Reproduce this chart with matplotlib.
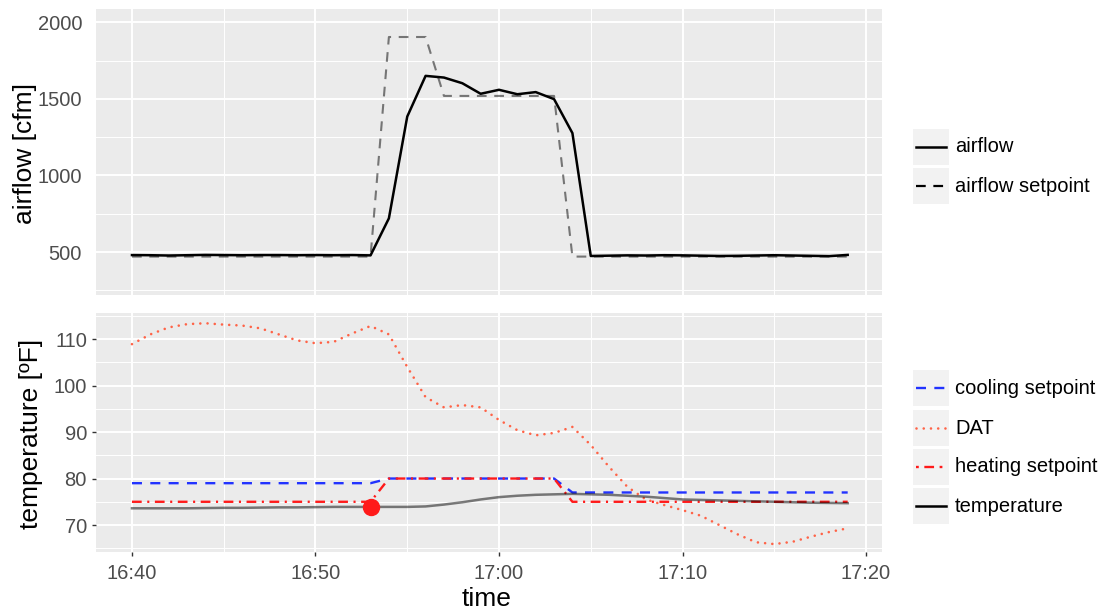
import matplotlib.pyplot as plt
import matplotlib.patches as patches
from matplotlib.lines import Line2D
from matplotlib.ticker import FixedLocator
import numpy as np

plt.rcParams['font.family'] = ['Liberation Sans', 'DejaVu Sans']
plt.rcParams['lines.scale_dashes'] = False

# --- data (one sample per minute, minute 0 = 16:40) ---
minutes = np.arange(40)
time_ticks = [0, 10, 20, 30, 40]
time_labels = ['16:40', '16:50', '17:00', '17:10', '17:20']

airflow = [480, 479, 477, 479, 481, 480, 479, 480, 480, 479, 480, 479, 480, 478,
           720, 1385, 1651, 1640, 1603, 1534, 1560, 1531, 1545, 1499, 1277,
           474, 476, 478, 477, 479, 478, 476, 474, 475, 477, 479, 477, 475, 473, 481]
airflow_setpoint = [470] * 14 + [1905, 1905, 1905] + [1520] * 7 + [470] * 16

cooling_setpoint = [79] * 14 + [80] * 10 + [77] * 16
heating_setpoint = [75] * 14 + [80] * 10 + [75] * 16
dat = [108.9, 111.0, 112.5, 113.2, 113.4, 113.1, 112.9, 112.3, 111.0, 109.7,
       109.1, 109.4, 111.2, 112.8, 111.0, 104.0, 97.5, 95.3, 95.8, 95.3,
       92.6, 90.4, 89.3, 89.8, 91.1, 87.2, 82.5, 78.2, 75.5, 74.3,
       73.2, 72.0, 70.0, 68.0, 66.3, 65.9, 66.4, 67.5, 68.5, 69.3]
temperature = [73.6, 73.6, 73.6, 73.6, 73.65, 73.7, 73.7, 73.75, 73.8, 73.8,
               73.85, 73.9, 73.9, 73.9, 73.9, 73.9, 74.0, 74.4, 74.9, 75.5,
               76.0, 76.3, 76.5, 76.6, 76.7, 76.6, 76.5, 76.3, 76.1, 75.8,
               75.5, 75.4, 75.3, 75.2, 75.1, 75.0, 74.9, 74.8, 74.75, 74.7]
alarm_minute = [13]
alarm_temp = [73.9]

W, H = 1102, 611
fig = plt.figure(figsize=(W / 100, H / 100), dpi=100)
fig.patch.set_facecolor('white')

tick_size = 14.5
title_size = 19
legend_size = 14.5


def px_axes(l, t, r, b):
    return fig.add_axes([l / W, 1 - b / H, (r - l) / W, (b - t) / H])


def gg_style(ax):
    ax.set_facecolor('#ebebeb')
    for s in ax.spines.values():
        s.set_visible(False)
    ax.grid(which='major', color='white', linewidth=1.4)
    ax.grid(which='minor', color='white', linewidth=0.7)
    ax.set_axisbelow(True)
    ax.tick_params(which='minor', length=0)
    ax.tick_params(which='major', colors='#333333', labelcolor='#4d4d4d',
                   labelsize=tick_size)
    ax.set_xlim(-1.96, 40.87)
    ax.xaxis.set_major_locator(FixedLocator(time_ticks))
    ax.xaxis.set_minor_locator(FixedLocator([5, 15, 25, 35]))


ax1 = px_axes(96, 9, 882, 295)
ax2 = px_axes(96, 313, 882, 552)
gg_style(ax1)
gg_style(ax2)

# === TOP PANEL: airflow ===
ax1.plot(minutes, airflow, color='black', linewidth=1.8, zorder=3)
ax1.plot(minutes, airflow_setpoint, color='black', alpha=0.5, linewidth=1.5,
         dashes=(7, 5.5), zorder=3)
ax1.set_ylim(219, 2088)
ax1.yaxis.set_major_locator(FixedLocator([500, 1000, 1500, 2000]))
ax1.yaxis.set_minor_locator(FixedLocator([250, 750, 1250, 1750]))
ax1.tick_params(axis='y', which='major', length=0, pad=10)
ax1.tick_params(axis='x', which='major', length=0, labelbottom=False)

# === BOTTOM PANEL: temperatures ===
ax2.plot(minutes, cooling_setpoint, color='#2233ff', linewidth=1.7, dashes=(7.2, 6), zorder=3)
ax2.plot(minutes, dat, color='tomato', linewidth=1.9, dashes=(0.01, 5.2),
         dash_capstyle='round', zorder=3)
ax2.plot(minutes, heating_setpoint, color='#ff1a1a', linewidth=1.7,
         dashes=(7, 4, 1.5, 4), zorder=4)
ax2.plot(minutes, temperature, color='black', alpha=0.5, linewidth=1.8, zorder=5)
ax2.plot(alarm_minute, alarm_temp, 'o', color='#ff1a1a', markersize=11.5, zorder=6)
ax2.set_ylim(64.2, 115.6)
ax2.yaxis.set_major_locator(FixedLocator([70, 80, 90, 100, 110]))
ax2.yaxis.set_minor_locator(FixedLocator([65, 75, 85, 95, 105, 115]))
ax2.tick_params(axis='y', which='major', length=3, width=1, pad=3.5)
ax2.tick_params(axis='x', which='major', length=3, width=1, pad=5.5)
ax2.set_xticklabels(time_labels)

# axis titles
fig.text(25 / W, 1 - 153 / H, 'airflow [cfm]', rotation=90, fontsize=title_size,
         ha='center', va='center')
fig.text(31 / W, 1 - 434 / H, 'temperature [ºF]', rotation=90, fontsize=title_size,
         ha='center', va='center')
fig.text(487 / W, 1 - 599 / H, 'time', fontsize=title_size, ha='center', va='center')


# === LEGENDS (ggplot style keys) ===
def legend_entry(cy, label, **line_kw):
    key = patches.Rectangle((913 / W, 1 - (cy + 18) / H), 36 / W, 36 / H,
                            transform=fig.transFigure, facecolor='#f2f2f2',
                            edgecolor='none')
    fig.add_artist(key)
    ln = Line2D([916 / W, 946 / W], [1 - cy / H, 1 - cy / H],
                transform=fig.transFigure, **line_kw)
    fig.add_artist(ln)
    fig.text(955 / W, 1 - cy / H, label, fontsize=legend_size, ha='left', va='center',
             color='black')


legend_entry(147, 'airflow', color='black', linewidth=1.8)
legend_entry(186, 'airflow setpoint', color='black', linewidth=1.6, dashes=(7, 5.5))

legend_entry(388, 'cooling setpoint', color='#2233ff', linewidth=1.7, dashes=(7.2, 6))
legend_entry(428, 'DAT', color='tomato', linewidth=1.9, dashes=(0.01, 5.2),
             dash_capstyle='round')
legend_entry(467, 'heating setpoint', color='#ff1a1a', linewidth=1.7,
             dashes=(2, 4, 7, 4))
legend_entry(506, 'temperature', color='black', linewidth=1.8)

fig.savefig('out.png', dpi=100, facecolor='white')
plt.close(fig)
